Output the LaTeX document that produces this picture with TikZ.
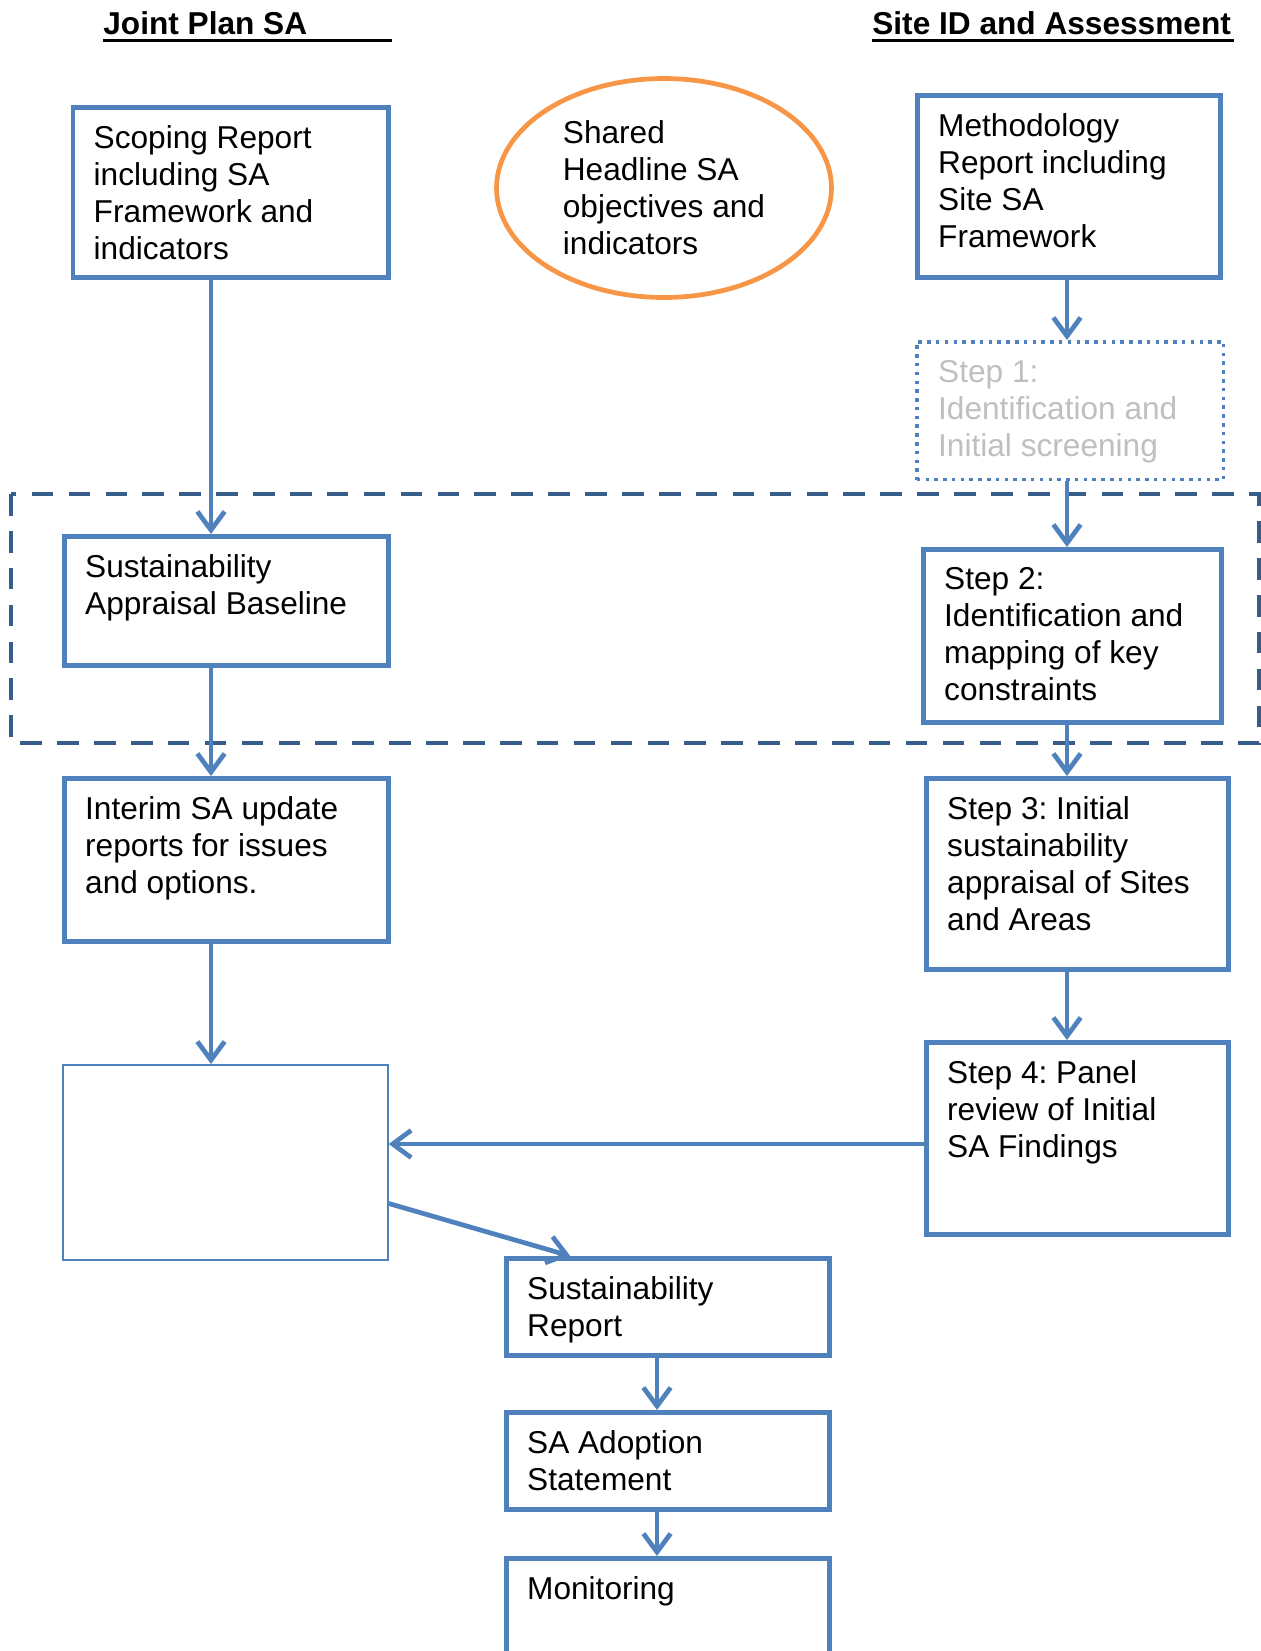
\documentclass[tikz,border=0pt]{standalone}
\usepackage{fontspec}
\setmainfont{Liberation Sans}
\usepackage{tikz}
\usetikzlibrary{shapes.geometric}
\usetikzlibrary{arrows.meta}
\frenchspacing

\definecolor{sablue}{RGB}{79,129,189}
\definecolor{framblue}{RGB}{56,93,138}
\definecolor{saorange}{RGB}{247,150,70}
\definecolor{stepgrey}{RGB}{191,191,191}

\begin{document}
\begin{tikzpicture}[x=0.02cm,y=-0.02cm,>={Straight Barb[length=10.5pt,width=15.5pt]},
    font=\fontsize{18pt}{21pt}\selectfont]
    \tikzstyle{box}=[draw=sablue, line width=2.7pt, anchor=north west, inner sep=0pt]
    \tikzstyle{thinbox}=[draw=sablue, line width=1pt, anchor=north west, inner sep=0pt]
    \tikzstyle{dotbox}=[draw=sablue, line width=2pt, dash pattern=on 2pt off 3pt, anchor=north west, inner sep=0pt]
    \tikzstyle{txt}=[anchor=north west, align=left, inner sep=0pt, xshift=13pt, yshift=-11.5pt]
    \tikzstyle{arr}=[->, draw=sablue, line width=2.7pt]
    \tikzstyle{title}=[anchor=base west, inner sep=0pt, font=\fontsize{18pt}{21pt}\selectfont\bfseries]
    \useasboundingbox (0,0) rectangle (1261,1651);

    \node[title] (jptitle) at (103,34) {Joint Plan SA};
    \node[title] (sitetitle) at (872,34) {Site ID and Assessment};
    \draw[line width=1.7pt] ([yshift=-3.5pt]jptitle.base west) -- ++(289,0);
    \draw[line width=1.7pt] ([yshift=-3.5pt]sitetitle.base west) -- ++(362,0);

    \draw[framblue, line width=2pt, dash pattern=on 12.3pt off 8.7pt] (11,494) rectangle (1259,743);

    \node[box, minimum width=6.31cm, minimum height=3.4cm,
      label={[txt]north west:{Scoping Report\\including SA\\Framework and\\indicators}}] (scop) at (70.5,105) {};
    \node[ellipse, draw=saorange, line width=2.7pt, minimum width=6.7cm, minimum height=4.38cm, align=left, inner sep=0pt]
      (shared) at (664,188) {Shared\\Headline SA\\objectives and\\indicators};
    \node[box, minimum width=6.06cm, minimum height=3.64cm,
      label={[txt]north west:{Methodology\\Report including\\Site SA\\Framework}}] (meth) at (915,93) {};
    \node[dotbox, minimum width=6.14cm, minimum height=2.76cm,
      label={[txt,text=stepgrey]north west:{Step 1:\\Identification and\\Initial screening}}] (step1) at (915,340) {};
    \node[box, minimum width=6.48cm, minimum height=2.58cm,
      label={[txt]north west:{Sustainability\\Appraisal Baseline}}] (base) at (62,534) {};
    \node[box, minimum width=5.96cm, minimum height=3.46cm,
      label={[txt]north west:{Step 2:\\Identification and\\mapping of key\\constraints}}] (step2) at (921,547) {};
    \node[box, minimum width=6.48cm, minimum height=3.26cm,
      label={[txt]north west:{Interim SA update\\reports for issues\\and options.}}] (inter) at (62,776) {};
    \node[box, minimum width=6.04cm, minimum height=3.82cm,
      label={[txt]north west:{Step 3: Initial\\sustainability\\appraisal of Sites\\and Areas}}] (step3) at (924,776) {};
    \node[thinbox, minimum width=6.5cm, minimum height=3.9cm] (empty) at (62,1064) {};
    \node[box, minimum width=6.04cm, minimum height=3.84cm,
      label={[txt]north west:{Step 4: Panel\\review of Initial\\SA Findings}}] (step4) at (924,1040) {};
    \node[box, minimum width=6.46cm, minimum height=1.94cm,
      label={[txt]north west:{Sustainability\\Report}}] (srep) at (504,1256) {};
    \node[box, minimum width=6.46cm, minimum height=1.94cm,
      label={[txt]north west:{SA Adoption\\Statement}}] (adop) at (504,1410) {};
    \node[box, minimum width=6.46cm, minimum height=2.9cm,
      label={[txt]north west:{Monitoring}}] (moni) at (504,1556) {};

    \coordinate (lx) at (211,0);
    \coordinate (rx) at (1067,0);
    \coordinate (mx) at (657,0);
    \draw[arr] (scop.south -| lx) -- (base.north -| lx);
    \draw[arr] (base.south -| lx) -- (inter.north -| lx);
    \draw[arr] (inter.south -| lx) -- (empty.north -| lx);
    \draw[arr] (meth.south -| rx) -- (step1.north -| rx);
    \draw[arr] (step1.south -| rx) -- (step2.north -| rx);
    \draw[arr] (step2.south -| rx) -- (step3.north -| rx);
    \draw[arr] (step3.south -| rx) -- (step4.north -| rx);
    \draw[arr] ([yshift=-3.2pt]step4.west) -- ([yshift=-3.2pt]step4.west -| empty.east);
    \draw[arr] ([yshift=-23.4pt]empty.east) -- ([xshift=-55.5pt]srep.north);
    \draw[arr] (srep.south -| mx) -- (adop.north -| mx);
    \draw[arr] (adop.south -| mx) -- (moni.north -| mx);
\end{tikzpicture}
\end{document}
